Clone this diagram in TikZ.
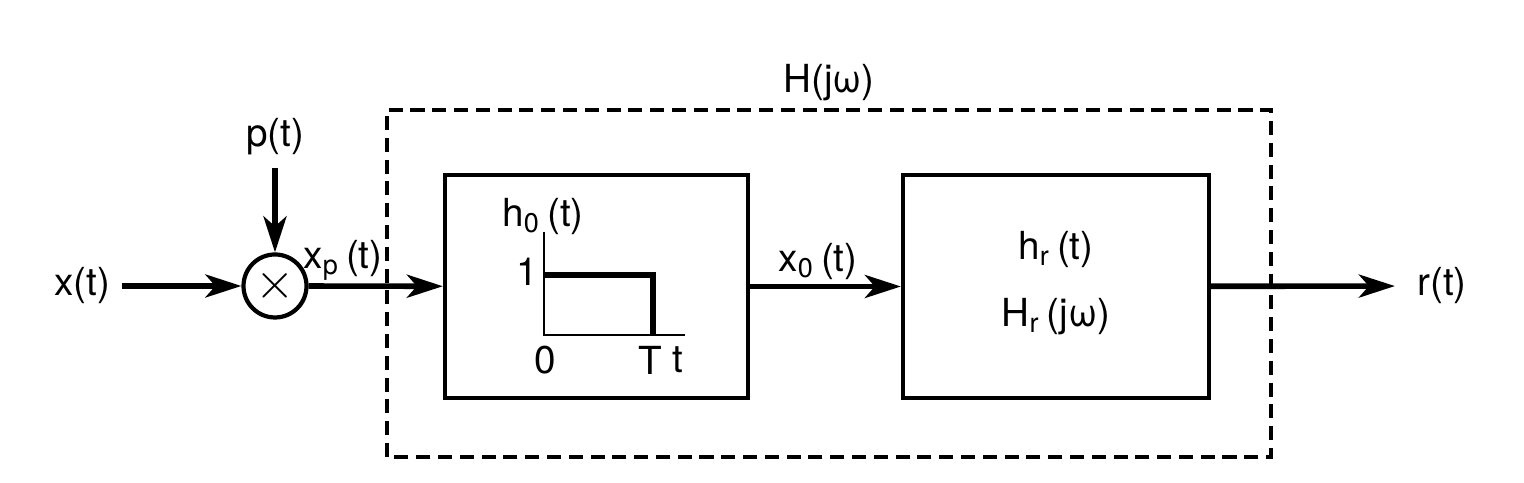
\documentclass[tikz,border=0pt]{standalone}
\usepackage{fontspec}
\setmainfont{TeX Gyre Heros}
\usetikzlibrary{arrows.meta,positioning}

\begin{document}
\begin{tikzpicture}[font=\fontsize{11}{13}\selectfont,
  sig/.style={line width=1.6pt, -{Stealth[length=3.6mm,width=2.3mm,inset=1mm]}},
  block/.style={draw, line width=1.2pt, minimum width=3.03cm, minimum height=2.23cm}]
  \useasboundingbox (0,0) rectangle (15.24,4.83);
  % system H(jw)
  \draw[line width=0.9pt, dash pattern=on 4pt off 2.2pt] (3.87,0.26) rectangle (12.71,3.73);
  \node (Hjw) at (8.29,4.00) {H(jω)};
  \node[block] (hzero) at (5.965,1.965) {};
  \node[block, minimum width=3.06cm] (hr) at (10.56,1.965) {};
  \node[draw, circle, line width=1.2pt, minimum size=0.63cm, inner sep=0pt] (mult) at (2.75,1.97) {\Large$\times$};
  % signal labels
  \node (xt) at (0.82,1.97) {x(t)};
  \node (pt) at (2.75,3.46) {p(t)};
  \node (rt) at (14.42,1.97) {r(t)};
  \node (xp) at (3.43,2.23) {x\textsubscript{p}\,(t)};
  \node (xzero) at (8.18,2.21) {x\textsubscript{0}\,(t)};
  \node (hrt) at (10.56,2.33) {h\textsubscript{r}\,(t)};
  \node (Hr) at (10.56,1.66) {H\textsubscript{r}\,(jω)};
  % connectors
  \draw[sig] (xt) -- (mult);
  \draw[sig] (pt) -- (mult);
  \draw[sig] (mult) -- (hzero);
  \draw[sig] (hzero) -- (hr);
  \draw[sig, shorten >=1mm] (hr) -- (rt);
  % impulse response h0(t)
  \draw[line width=0.6pt] (5.44,2.51) -- (5.44,1.48) -- (6.85,1.48);
  \draw[line width=1.5pt] (5.44,2.08) -- (6.53,2.08) -- (6.53,1.48);
  \node (hzt) at (5.43,2.66) {h\textsubscript{0}\,(t)};
  \node (one) at (5.27,2.11) {1};
  \node (zero) at (5.45,1.23) {0};
  \node (T) at (6.50,1.23) {T};
  \node (tt) at (6.78,1.23) {t};
\end{tikzpicture}
\end{document}
